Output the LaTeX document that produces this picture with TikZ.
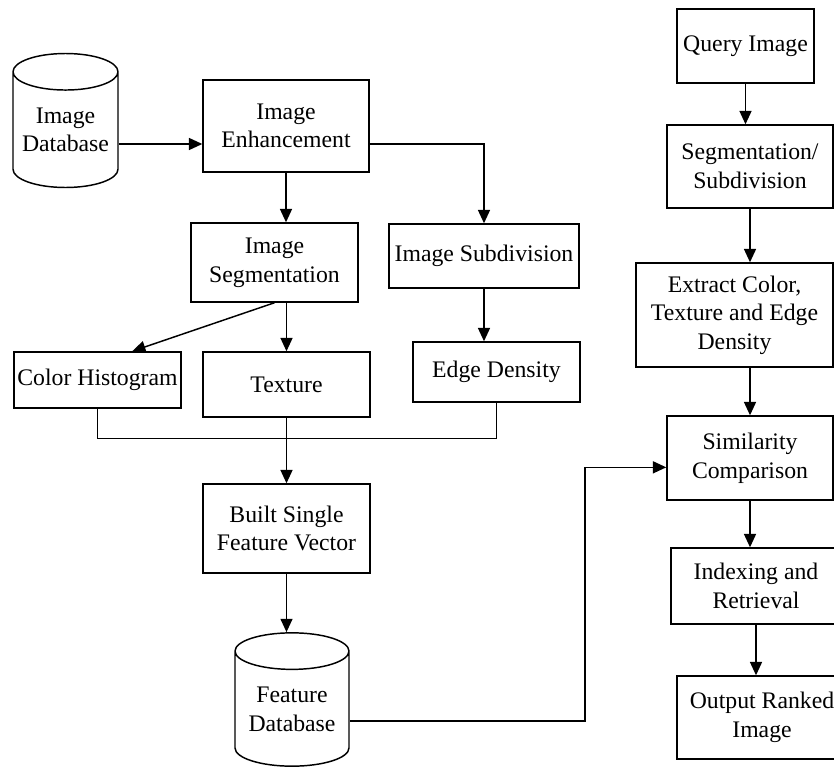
\documentclass[tikz,border=0pt]{standalone}
\usepackage{fontspec}
\setmainfont{Liberation Serif}
\usetikzlibrary{arrows.meta,shapes.geometric,calc}

\tikzstyle{box}=[draw, line width=1.1pt, inner sep=0pt, align=center, font=\fontsize{17.8}{21.5}\selectfont]
\tikzstyle{store}=[box, cylinder, shape border rotate=90, shape aspect=0.42]
\tikzstyle{arr}=[line width=1.1pt, -{Triangle[length=10pt,width=9pt]}]
\tikzstyle{wire}=[line width=1.1pt]

\begin{document}
\begin{tikzpicture}[x=0.75pt, y=-0.75pt]
	\useasboundingbox (0,0) rectangle (834,771);
	% left part
	\node [store, minimum width=78.75pt, minimum height=100.5pt] (imgdb) at (65.5,130) {Image\\Database};
	\node [box, minimum width=124.5pt, minimum height=69pt] (enhance) at (286,126) {Image\\Enhancement};
	\node [box, minimum width=125.25pt, minimum height=59.25pt] (segment) at (274.5,262.5) {Image\\Segmentation};
	\node [box, minimum width=142.5pt, minimum height=48pt] (subdiv) at (484,256) {Image Subdivision};
	\node [box, minimum width=125.25pt, minimum height=42pt] (colorhist) at (97.5,380) {Color Histogram};
	\node [box, minimum width=125.25pt, minimum height=48.75pt] (texture) at (286.5,384.5) {Texture};
	\node [box, minimum width=125.25pt, minimum height=45pt] (edgedens) at (496.5,372) {Edge Density};
	\node [box, minimum width=125.25pt, minimum height=66.75pt] (single) at (286.5,528.5) {Built Single\\Feature Vector};
	\node [store, minimum width=85.5pt, minimum height=100pt] (featdb) at (292,709) {Feature\\Database};
	% right part
	\node [box, minimum width=102.75pt, minimum height=55.5pt] (query) at (745.5,46) {Query Image};
	\node [box, minimum width=124.5pt, minimum height=62.25pt] (segsub) at (750,166.5) {Segmentation/\\Subdivision};
	\node [box, minimum width=147.75pt, minimum height=78pt] (extract) at (734.5,315) {Extract Color,\\Texture and Edge\\Density};
	\node [box, minimum width=124.5pt, minimum height=63pt] (similar) at (750,458) {Similarity\\Comparison};
	\node [box, minimum width=127.5pt, minimum height=57pt] (indexing) at (756,586) {Indexing and\\Retrieval};
	\node [box, minimum width=127.5pt, minimum height=62.25pt] (output) at (762,717.5) {Output Ranked\\Image};

	\coordinate (dbout) at ([yshift=-10.5pt]imgdb.east);
	\coordinate (join) at ($(texture.south)+(0,21)$);
	\coordinate (fdbout) at ([yshift=-9pt]featdb.east);
	\coordinate (turn) at (585,600);

	\draw [arr] (dbout) -- (dbout -| enhance.west);
	\draw [arr] (dbout -| enhance.east) -| (subdiv.north);
	\draw [arr] (enhance.south) -- (enhance.south |- segment.north);
	\draw [arr] (segment.south) -- ([xshift=26pt]colorhist.north);
	\draw [arr] (texture.north |- segment.south) -- (texture.north);
	\draw [arr] (subdiv.south) -- (subdiv.south |- edgedens.north);
	\draw [wire] (colorhist.south) |- (join) -| (edgedens.south);
	\draw [arr] (texture.south) -- (single.north);
	\draw [arr] (single.south) -- (single.south |- featdb.north);
	\draw [arr] (fdbout) -| (turn) |- ([yshift=-7pt]similar.west);

	\draw [arr] (query.south) -- (query.south |- segsub.north);
	\draw [arr] (segsub.south) -- (segsub.south |- extract.north);
	\draw [arr] (extract.south -| similar.north) -- (similar.north);
	\draw [arr] (similar.south) -- (similar.south |- indexing.north);
	\draw [arr] (indexing.south) -- (indexing.south |- output.north);
\end{tikzpicture}
\end{document}
